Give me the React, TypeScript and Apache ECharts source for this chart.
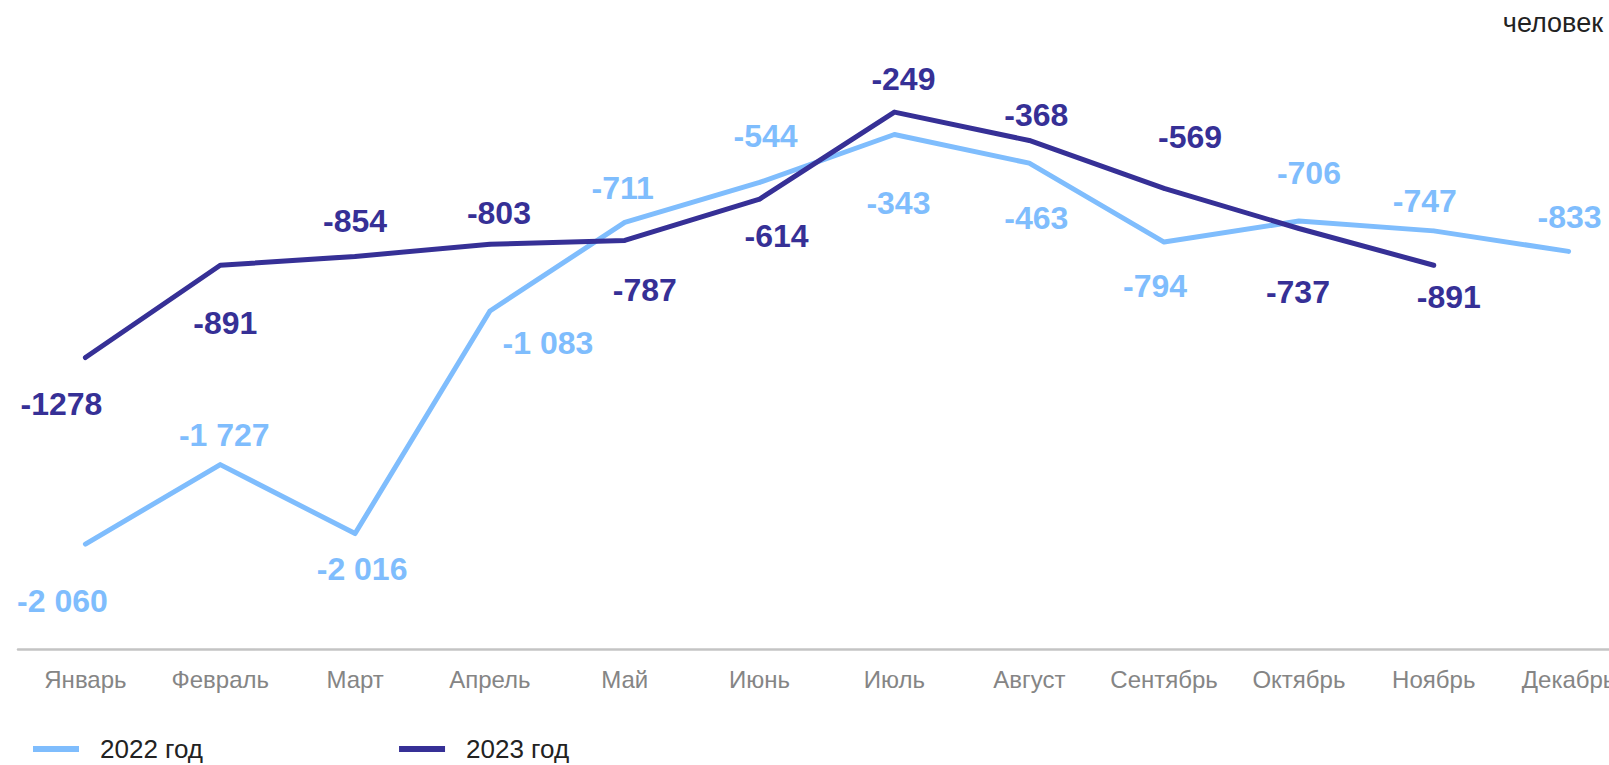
import React, { useEffect, useRef } from "react";
import * as echarts from "echarts";

const MONTHS = ["Январь", "Февраль", "Март", "Апрель", "Май", "Июнь", "Июль", "Август", "Сентябрь", "Октябрь", "Ноябрь", "Декабрь"];
const VALUES_2022 = [-2060, -1727, -2016, -1083, -711, -544, -343, -463, -794, -706, -747, -833];
const VALUES_2023 = [-1278, -891, -854, -803, -787, -614, -249, -368, -569, -737, -891];
const SERIES_NAMES = ["2022 год", "2023 год"];
const UNIT_LABEL = "человек";

// label placement relative to each point [dx, dy]
const LABEL_OFFSET_2022 = [[-23, 57], [4, -30], [7, 35], [58, 32], [-2, -34], [6, -46], [4, 68], [7, 55], [-9, 44], [10, -48], [-9, -30], [1, -34]];
const LABEL_OFFSET_2023 = [[-24, 46], [5, 58], [0, -35], [9, -31], [20, 50], [17, 37], [9, -33], [7, -25], [26, -51], [-1, 64], [15, 32]];

const COLOR_2022 = "#7fbdfd";
const COLOR_2023 = "#363096";
const FONT = "Liberation Sans, Arial, sans-serif";

function fmtSpace(v: number): string {
  const s = Math.abs(v).toString().replace(/\B(?=(\d{3})+(?!\d))/g, " ");
  return (v < 0 ? "-" : "") + s;
}

function buildData(values: number[], offsets: number[][]) {
  return values.map((v, i) => ({
    value: v,
    label: { offset: offsets[i] },
  }));
}

export default function App() {
  const ref = useRef<HTMLDivElement>(null);
  useEffect(() => {
    document.body.style.margin = "0";
    if (!ref.current) return;
    const chart = echarts.init(ref.current, undefined, { renderer: "svg" });
    const labelBase = {
      show: true,
      position: "inside",
      fontSize: 32,
      fontWeight: "bold",
      fontFamily: FONT,
    };
    chart.setOption({
      animation: false,
      textStyle: { fontFamily: FONT },
      grid: {
        left: 18,
        top: 52.7,
        width: 1618,
        height: 596.3,
        containLabel: false,
        outerBoundsMode: "none",
      },
      graphic: [
        {
          type: "text",
          x: 1603,
          y: 23,
          style: {
            text: UNIT_LABEL,
            fontSize: 27,
            fill: "#222",
            align: "right",
            verticalAlign: "middle",
            fontFamily: FONT,
          },
        },
      ],
      legend: {
        left: 33,
        top: 736,
        padding: 0,
        itemWidth: 46,
        itemHeight: 6,
        itemGap: 196,
        icon: "rect",
        textStyle: { fontSize: 26, color: "#222", padding: [0, 0, 0, 16] },
        data: SERIES_NAMES,
      },
      xAxis: {
        type: "category",
        data: MONTHS,
        boundaryGap: true,
        axisLine: { show: true, onZero: false, lineStyle: { color: "#c4c4c4", width: 2.5 } },
        axisTick: { show: false },
        axisLabel: { color: "#858585", fontSize: 24, margin: 18, interval: 0 },
      },
      yAxis: {
        type: "value",
        min: -2500,
        max: 0,
        show: false,
        splitLine: { show: false },
      },
      series: [
        {
          name: SERIES_NAMES[0],
          type: "line",
          data: buildData(VALUES_2022, LABEL_OFFSET_2022),
          symbol: "circle",
          symbolSize: 4,
          itemStyle: { color: COLOR_2022 },
          lineStyle: { color: COLOR_2022, width: 5, cap: "round", join: "round" },
          label: { ...labelBase, color: COLOR_2022, formatter: (p: any) => fmtSpace(p.value) },
        },
        {
          name: SERIES_NAMES[1],
          type: "line",
          data: buildData(VALUES_2023, LABEL_OFFSET_2023),
          symbol: "circle",
          symbolSize: 4,
          itemStyle: { color: COLOR_2023 },
          lineStyle: { color: COLOR_2023, width: 5, cap: "round", join: "round" },
          label: { ...labelBase, color: COLOR_2023, formatter: (p: any) => String(p.value) },
        },
      ],
    });
    return () => chart.dispose();
  }, []);
  return <div ref={ref} style={{ width: 1609, height: 765 }} />;
}
